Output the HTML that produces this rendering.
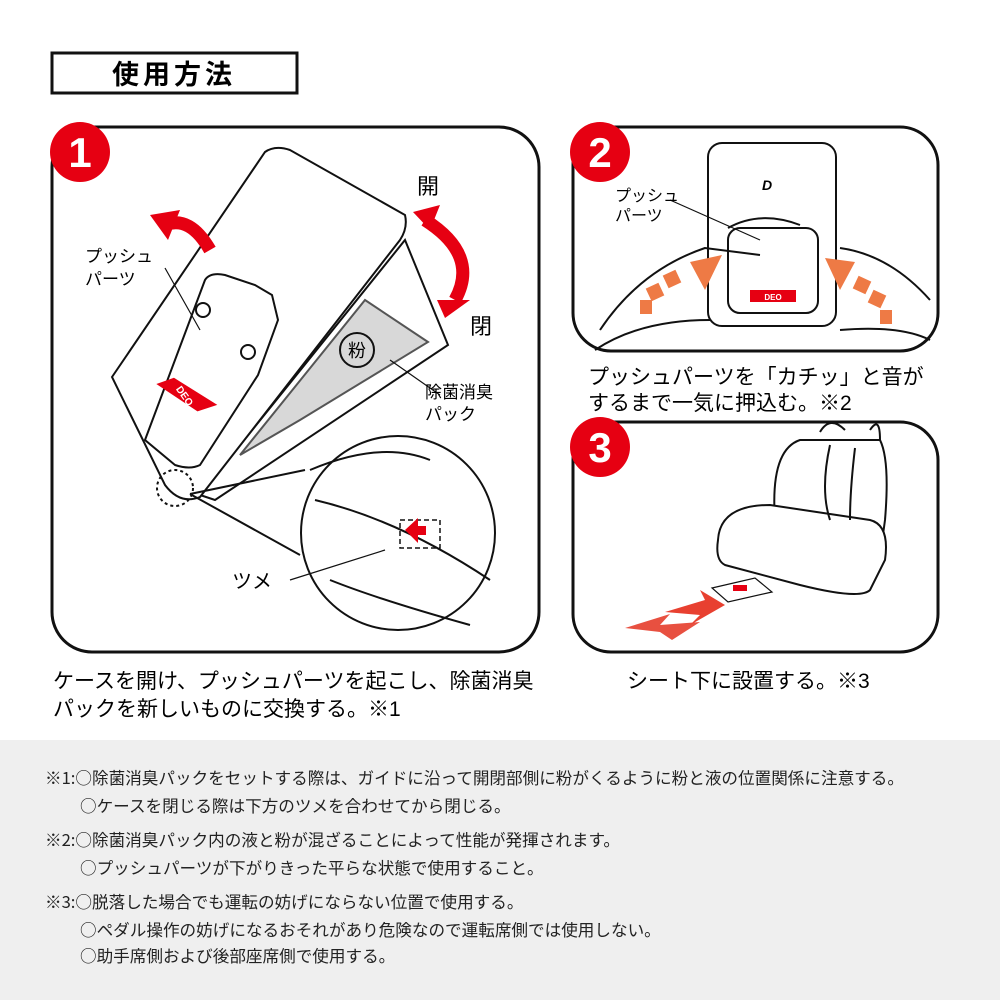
<!DOCTYPE html>
<html><head><meta charset="utf-8"><style>
*{margin:0;padding:0;box-sizing:border-box}
body{width:1000px;height:1000px;background:#fff;position:relative;overflow:hidden;font-family:"Liberation Sans","Noto Sans CJK JP",sans-serif;color:#222}
.t{position:absolute;white-space:nowrap}
#gray{position:absolute;left:0;top:740px;width:1000px;height:260px;background:#efefef}
.n{font-size:16.6px;color:#222;font-family:"Noto Sans CJK JP",sans-serif;letter-spacing:0}
</style></head><body>
<svg width="1000" height="740" style="position:absolute;left:0;top:0" xmlns="http://www.w3.org/2000/svg">
<rect x="52" y="53" width="245" height="40" fill="#fff" stroke="#111" stroke-width="3"/>
<text x="174" y="84" text-anchor="middle" font-size="27" font-weight="bold" font-family="Noto Sans CJK JP,sans-serif" letter-spacing="4">使用方法</text>
<rect x="52" y="127" width="487" height="525" rx="40" fill="#fff" stroke="#111" stroke-width="3"/>
<rect x="573" y="127" width="365" height="224" rx="38" fill="#fff" stroke="#111" stroke-width="3"/>
<rect x="573" y="422" width="365" height="230" rx="38" fill="#fff" stroke="#111" stroke-width="3"/>
<circle cx="80" cy="152" r="30" fill="#e60012"/><text x="80" y="167" text-anchor="middle" fill="#fff" font-size="42" font-weight="bold">1</text>
<circle cx="600" cy="152" r="30" fill="#e60012"/><text x="600" y="167" text-anchor="middle" fill="#fff" font-size="42" font-weight="bold">2</text>
<circle cx="600" cy="447" r="30" fill="#e60012"/><text x="600" y="462" text-anchor="middle" fill="#fff" font-size="42" font-weight="bold">3</text>
<g fill="none" stroke="#111" stroke-width="2">
<path d="M200,495 L405,240 L448,345 L215,500 Z" fill="#fff"/>
<path d="M240,455 L365,300 L428,342 L300,420 Z" fill="#d8d8d8" stroke="#555"/>
<path d="M112,377 L265,152 Q275,145 290,150 L405,215 Q408,228 400,240 L200,497 Q180,505 165,485 Z" fill="#fff"/>
<path d="M145,440 L205,280 Q210,272 225,275 L255,285 L272,295 L278,320 L258,375 L200,465 Q190,470 175,465 Z" fill="#fff"/>
<circle cx="203" cy="310" r="7"/><circle cx="248" cy="352" r="7"/>
<circle cx="357" cy="350" r="17"/>
<circle cx="398" cy="533" r="97" fill="#fff"/>
<circle cx="175" cy="488" r="18" stroke-dasharray="3,3"/>
<path d="M190,494 L305,470 M190,494 L300,555"/>
<path d="M400,520 L440,520 L440,548 L400,548 Z" stroke-dasharray="5,3" stroke-width="1.5"/>
<path d="M310,470 Q380,440 430,460 M315,500 Q400,520 490,580 M330,580 Q380,600 470,625"/>
<path d="M290,580 L385,550" stroke-width="1.2"/>
<path d="M165,268 L200,330 M390,360 L440,395" stroke-width="1.2"/>
</g>
<path d="M165,395 L212,375 L206,395 L160,413 Z" fill="#e60012" transform="rotate(55 186 395)"/>
<text x="186" y="400" text-anchor="middle" fill="#fff" font-size="10" font-weight="bold" transform="rotate(55 186 395)">DEO</text>
<text x="357" y="357" text-anchor="middle" font-size="18">粉</text>
<path d="M405,530 L418,518 L418,526 L426,526 L426,535 L418,535 L418,543 Z" fill="#e60012"/>
<path d="M210,250 Q190,215 165,225" fill="none" stroke="#e60012" stroke-width="13"/>
<polygon points="150,215 180,210 168,240" fill="#e60012"/>
<path d="M425,220 Q480,255 455,300" fill="none" stroke="#e60012" stroke-width="13"/>
<polygon points="413,212 440,205 430,230" fill="#e60012"/>
<polygon points="437,300 470,300 445,318" fill="#e60012"/>
<text x="417" y="194" font-size="22">開</text>
<text x="470" y="334" font-size="22">閉</text>
<text x="85" y="262" font-size="17">プッシュ</text><text x="85" y="285" font-size="17">パーツ</text>
<text x="425" y="398" font-size="17">除菌消臭</text><text x="425" y="420" font-size="17">パック</text>
<text x="232" y="588" font-size="20">ツメ</text>
<g fill="none" stroke="#111" stroke-width="2">
<rect x="708" y="143" width="128" height="183" rx="14" fill="#fff"/>
<rect x="728" y="228" width="90" height="85" rx="12" fill="#fff"/>
<path d="M600,330 Q640,270 705,248 L760,255 M840,248 Q890,255 930,300 M595,350 Q640,320 710,320 M930,340 Q900,325 840,330"/>
<path d="M728,228 Q760,210 800,225"/>
<path d="M670,200 L760,240" stroke-width="1.2"/>
</g>
<rect x="750" y="290" width="46" height="12" fill="#e60012"/>
<text x="773" y="300" text-anchor="middle" fill="#fff" font-size="8" font-weight="bold">DEO</text>
<text x="762" y="190" font-size="14" font-weight="bold" font-style="italic">D</text>
<g fill="#ee7a45">
<polygon points="690,262 722,255 705,290"/><rect x="665" y="272" width="14" height="14" transform="rotate(-25 672 279)"/><rect x="648" y="285" width="14" height="14" transform="rotate(-25 655 292)"/><rect x="640" y="300" width="12" height="14"/>
<polygon points="825,258 855,262 840,290"/><rect x="855" y="278" width="14" height="14" transform="rotate(25 862 285)"/><rect x="870" y="292" width="14" height="14" transform="rotate(25 877 299)"/><rect x="880" y="310" width="12" height="14"/>
</g>
<text x="615" y="201" font-size="16">プッシュ</text><text x="615" y="221" font-size="16">パーツ</text>
<g fill="none" stroke="#111" stroke-width="2">
<path d="M775,520 Q770,450 800,440 L880,440 Q890,460 885,520 Q880,560 870,580" fill="#fff"/>
<path d="M718,540 Q720,505 770,505 L870,520 Q890,525 885,560 L870,590 Q860,600 800,585 L725,565 Q715,560 718,540 Z" fill="#fff"/>
<path d="M830,445 Q820,490 830,520 M855,448 Q850,490 850,520 M820,432 Q830,415 845,430 M870,430 Q880,415 880,440"/>
<path d="M712,588 L755,578 L772,592 L728,602 Z" fill="#fff" stroke-width="1.2"/>
</g>
<rect x="733" y="585" width="14" height="6" fill="#e60012"/>
<polygon points="625,628 670,614 660,625 700,622 672,640 660,632" fill="#e85040"/>
<polygon points="665,612 705,600 700,590 725,605 690,625 700,615" fill="#e84030"/>
<text x="53" y="688" font-size="21">ケースを開け、プッシュパーツを起こし、除菌消臭</text>
<text x="53" y="716" font-size="21">パックを新しいものに交換する。※1</text>
<text x="588" y="384" font-size="21">プッシュパーツを「カチッ」と音が</text>
<text x="588" y="410" font-size="21">するまで一気に押込む。※2</text>
<text x="627" y="688" font-size="21">シート下に設置する。※3</text>
</svg>
<div id="gray"></div>
<div class="t n" style="left:45px;top:765px">※1:○除菌消臭パックをセットする際は、ガイドに沿って開閉部側に粉がくるように粉と液の位置関係に注意する。</div>
<div class="t n" style="left:80px;top:793px">○ケースを閉じる際は下方のツメを合わせてから閉じる。</div>
<div class="t n" style="left:45px;top:827px">※2:○除菌消臭パック内の液と粉が混ざることによって性能が発揮されます。</div>
<div class="t n" style="left:80px;top:855px">○プッシュパーツが下がりきった平らな状態で使用すること。</div>
<div class="t n" style="left:45px;top:889px">※3:○脱落した場合でも運転の妨げにならない位置で使用する。</div>
<div class="t n" style="left:80px;top:917px">○ペダル操作の妨げになるおそれがあり危険なので運転席側では使用しない。</div>
<div class="t n" style="left:80px;top:943px">○助手席側および後部座席側で使用する。</div>
</body></html>
